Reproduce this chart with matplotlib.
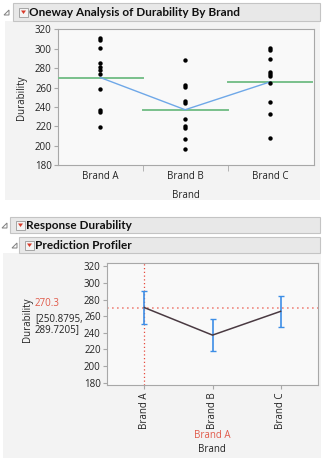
import matplotlib
matplotlib.use("Agg")
import matplotlib.pyplot as plt
from matplotlib.patches import Rectangle, Polygon
import numpy as np

plt.rcParams['font.family'] = ['Open Sans', 'DejaVu Sans']

# ---- data ----
brands = ["Brand A", "Brand B", "Brand C"]
brand_a = [311, 309, 301, 285, 281, 278, 274, 259, 237, 235, 219]
brand_b = [288, 263, 261, 246, 244, 228, 220, 218, 207, 197]
brand_c = [301, 299, 289, 276, 274, 272, 265, 245, 233, 208]
group_means = [270.3, 237.2, 265.8]
ci_low = [250.8795, 217.8, 246.6]
ci_high = [289.7205, 256.4, 284.8]
y_ticks = [180, 200, 220, 240, 260, 280, 300, 320]
current_value = "270.3"
current_ci = "[250.8795,\n289.7205]"
current_level = "Brand A"

W, H = 324, 458
fig = plt.figure(figsize=(W / 100, H / 100), dpi=100)
fig.patch.set_facecolor("white")

bg = fig.add_axes([0, 0, 1, 1])
bg.set_xlim(0, W)
bg.set_ylim(H, 0)
bg.axis("off")
bg.set_zorder(0)


def px_axes(x0, y0, x1, y1):
    return fig.add_axes([x0 / W, 1 - y1 / H, (x1 - x0) / W, (y1 - y0) / H])


def header(x0, y0, x1, y1, text, tri_x):
    bg.add_patch(Rectangle((x0, y0), x1 - x0, y1 - y0, facecolor="#e8e8e8",
                           edgecolor="#c4c4c4", lw=0.8))
    cy = (y0 + y1) / 2
    bg.add_patch(Polygon([[tri_x, cy + 3], [tri_x + 5, cy + 3], [tri_x + 5, cy - 2]],
                         closed=True, facecolor="none", edgecolor="#808080", lw=0.7))
    bx = x0 + 6
    bg.add_patch(Rectangle((bx, cy - 4.5), 9, 9, facecolor="#f4f4f4",
                           edgecolor="#9a9a9a", lw=0.6))
    bg.add_patch(Polygon([[bx + 2, cy - 1.5], [bx + 7, cy - 1.5], [bx + 4.5, cy + 2]],
                         closed=True, facecolor="#d83a2a", edgecolor="none"))
    bg.text(bx + 9.8, cy + 0.5, text, fontsize=8.5, fontweight="bold",
            family=["Lato", "DejaVu Sans"], va="center", ha="left", color="#111111")


# panel backgrounds
bg.add_patch(Rectangle((5, 21), 315, 179, facecolor="#f3f3f3", edgecolor="none"))
bg.add_patch(Rectangle((3, 253), 318, 205, facecolor="#f3f3f3", edgecolor="none"))

header(13, 3, 320, 21, "Oneway Analysis of Durability By Brand", 4)
header(10, 217, 320, 233, "Response Durability", 2)
header(19, 237, 320, 253, "Prediction Profiler", 12)

tick_color = "#222222"
frame_color = "#a8a8a8"

# ---- Oneway plot ----
ax = px_axes(58, 29.3, 314, 165.3)
ax.set_facecolor("#f9f9f9")
ax.set_zorder(2)
xs = np.arange(len(brands))
for i, vals in enumerate([brand_a, brand_b, brand_c]):
    ax.scatter([xs[i]] * len(vals), vals, s=10, color="black", zorder=4, linewidths=0)
for i, m in enumerate(group_means):
    ax.plot([xs[i] - 0.5, xs[i] + 0.5], [m, m], color="#79c08c", lw=1.4, zorder=3)
ax.plot(xs, group_means, color="#6fa8e8", lw=1.0, zorder=3)
ax.set_xlim(-0.5, 2.52)
ax.set_ylim(180, 320)
ax.set_yticks(y_ticks)
ax.set_xticks(xs)
ax.set_xticklabels(brands)
ax.set_xticks([0.5, 1.5], minor=True)
ax.tick_params(axis="x", which="major", length=0, labelsize=7, colors=tick_color, pad=4)
ax.tick_params(axis="x", which="minor", length=4, color=frame_color)
ax.tick_params(axis="y", length=3, labelsize=7, colors=tick_color, color=frame_color, pad=1.5)
for s in ax.spines.values():
    s.set_color(frame_color)
    s.set_linewidth(0.8)
ax.set_xlabel("Brand", fontsize=7, color=tick_color, labelpad=6)
ax.set_ylabel("Durability", fontsize=7, color=tick_color, labelpad=6)

# ---- Profiler plot ----
ap = px_axes(107, 262.5, 318, 385.3)
ap.set_facecolor("#f9f9f9")
ap.set_zorder(2)
ap.set_xlim(-0.55, 2.55)
ap.set_ylim(176.8, 324.6)
yerr = [np.array(group_means) - np.array(ci_low), np.array(ci_high) - np.array(group_means)]
ap.errorbar(xs, group_means, yerr=yerr, fmt="none", ecolor="#3d8ee6",
            elinewidth=1.2, capsize=2.5, capthick=1.0, zorder=3)
ap.plot(xs, group_means, color="#4a3a42", lw=1.1, zorder=4)
ap.axvline(xs[0], color="#e84a3c", lw=0.9, ls=(0, (1, 2)), zorder=2)
ap.axhline(group_means[0], color="#f08a80", lw=1.2, ls=(0, (1, 2)), zorder=2)
ap.set_yticks(y_ticks)
ap.set_xticks(xs)
ap.set_xticklabels(brands, rotation=90)
ap.tick_params(axis="x", length=3, labelsize=7, colors=tick_color, color=frame_color, pad=2)
ap.tick_params(axis="y", length=3, labelsize=7, colors=tick_color, color=frame_color, pad=1.5)
for s in ap.spines.values():
    s.set_color(frame_color)
    s.set_linewidth(0.8)

bg.text(212, 436, current_level, fontsize=7, color="#e05a4a", ha="center", va="center")
bg.text(212, 449.5, "Brand", fontsize=7, color=tick_color, ha="center", va="center")
bg.text(28, 320, "Durability", fontsize=7, color=tick_color, rotation=90,
        ha="center", va="center")
bg.text(35, 303.5, current_value, fontsize=7, color="#e05a4a", ha="left", va="center")
bg.text(35, 324, current_ci, fontsize=7, color=tick_color, ha="left", va="center",
        linespacing=1.05)

fig.savefig("out.png", dpi=100, facecolor=fig.get_facecolor())
